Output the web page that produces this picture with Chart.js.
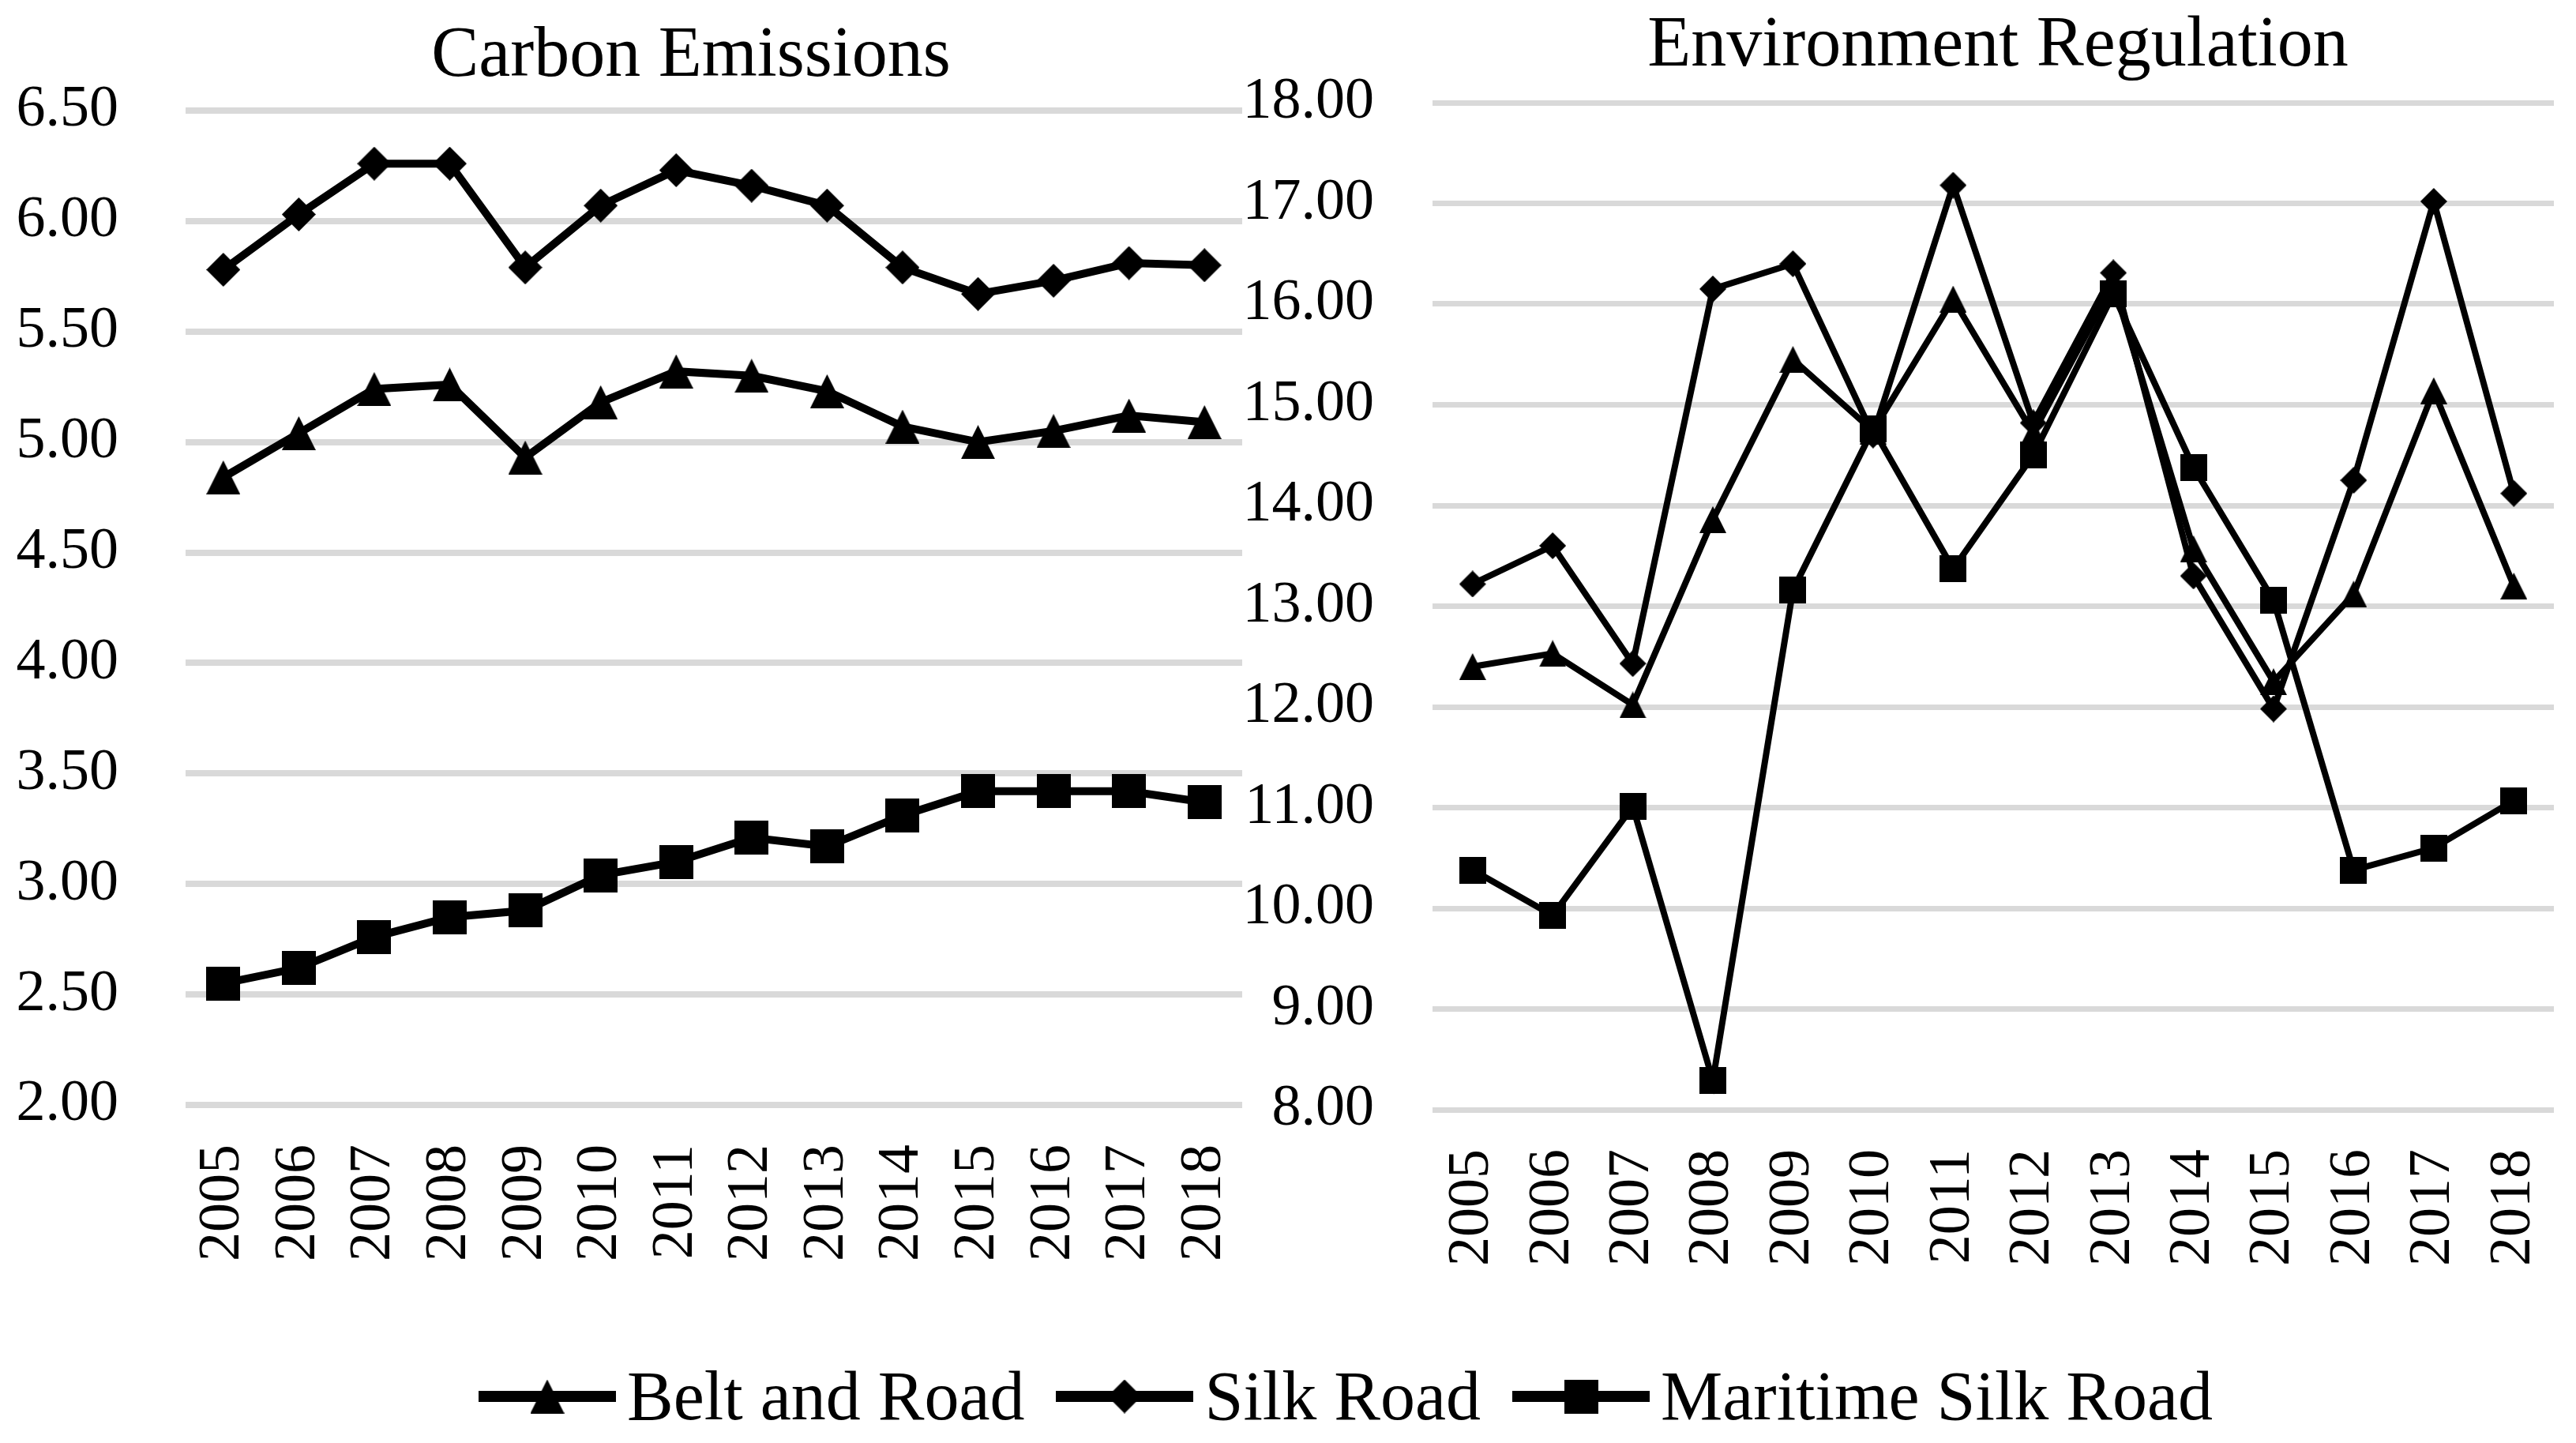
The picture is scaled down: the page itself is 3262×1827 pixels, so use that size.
<!DOCTYPE html>
<html>
<head>
<meta charset="utf-8">
<script src="https://cdn.jsdelivr.net/npm/chart.js@4.4.1/dist/chart.umd.min.js"></script>
<style>
  html, body { margin:0; padding:0; background:#fff; }
  body { width:3262px; height:1827px; position:relative; overflow:hidden; }
  canvas.panel { position:absolute; top:0; }
  #legend { position:absolute; left:606px; top:1724px; display:flex; align-items:center; height:88px;
            font-family:'Liberation Serif', 'Times New Roman', serif; font-size:88px; line-height:88px; color:#000; }
  .item { display:flex; align-items:center; }
  .item span { margin-left:14px; white-space:nowrap; }
  .item + .item { margin-left:40px; }
</style>
</head>
<body>
<canvas id="chart-carbon" class="panel" width="1640" height="1600" style="left:0;width:1640px;height:1600px"></canvas>
<canvas id="chart-reg" class="panel" width="1702" height="1600" style="left:1560px;width:1702px;height:1600px"></canvas>
<div id="legend"></div>

<script>
// ─── Data ─────────────────────────────────────────────────────────────────────
const YEARS = ['2005','2006','2007','2008','2009','2010','2011','2012','2013','2014','2015','2016','2017','2018'];
const SERIES_NAMES = ['Belt and Road', 'Silk Road', 'Maritime Silk Road'];

const beltCarbon     = [4.84, 5.04, 5.24, 5.26, 4.93, 5.18, 5.32, 5.30, 5.23, 5.07, 5.00, 5.05, 5.12, 5.09];
const silkCarbon     = [5.78, 6.03, 6.26, 6.26, 5.79, 6.07, 6.23, 6.16, 6.07, 5.79, 5.67, 5.73, 5.81, 5.80];
const maritimeCarbon = [2.55, 2.62, 2.76, 2.85, 2.88, 3.04, 3.10, 3.21, 3.17, 3.31, 3.42, 3.42, 3.42, 3.37];

const beltReg     = [12.40, 12.53, 12.02, 13.86, 15.45, 14.74, 16.05, 14.72, 16.20, 13.57, 12.25, 13.12, 15.14, 13.20];
const silkReg     = [13.22, 13.60, 12.43, 16.15, 16.40, 14.70, 17.18, 14.82, 16.31, 13.30, 11.98, 14.25, 17.02, 14.12];
const maritimeReg = [10.38,  9.93, 11.01,  8.29, 13.16, 14.76, 13.37, 14.50, 16.10, 14.38, 13.06, 10.38, 10.60, 11.07];

// ─── Style ────────────────────────────────────────────────────────────────────
const FONT = "'Liberation Serif', 'Times New Roman', serif";
const GRID_COLOR = '#d9d9d9';

// marker images (Excel-style triangle / diamond / square)
function marker(shape, s) {
  const c = document.createElement('canvas');
  c.width = s; c.height = s;
  const x = c.getContext('2d');
  x.fillStyle = '#000';
  x.beginPath();
  if (shape === 'tri') { x.moveTo(s/2,0); x.lineTo(s,s); x.lineTo(0,s); }
  else if (shape === 'dia') { x.moveTo(s/2,0); x.lineTo(s,s/2); x.lineTo(s/2,s); x.lineTo(0,s/2); }
  else { x.rect(0,0,s,s); }
  x.closePath(); x.fill();
  return c;
}

const panelTitle = {
  id: 'panelTitle',
  afterDraw(chart, args, opts) {
    const ctx = chart.ctx;
    ctx.save();
    ctx.font = `${opts.size}px ${FONT}`;
    ctx.fillStyle = '#000';
    ctx.textAlign = 'center';
    ctx.textBaseline = 'alphabetic';
    ctx.fillText(opts.text, opts.x, opts.y);
    ctx.restore();
  }
};

function ds(label, data, shape, size, width) {
  return {
    label, data,
    borderColor:'#000', borderWidth:width,
    pointStyle: marker(shape, size), pointRadius: size/2, pointHoverRadius: size/2,
    tension:0, fill:false,
  };
}

function makeChart(id, cfg) {
  return new Chart(document.getElementById(id), {
    type:'line',
    data:{ labels:YEARS, datasets:cfg.datasets },
    plugins:[panelTitle],
    options:{
      responsive:false, animation:false, devicePixelRatio:1,
      layout:{ padding:cfg.padding },
      plugins:{
        legend:{ display:false }, tooltip:{ enabled:false }, title:{ display:false },
        panelTitle: cfg.title,
      },
      scales:{
        x:{
          offset:true,
          grid:{ display:false, drawTicks:false }, border:{ display:false },
          ticks:{ color:'#000', font:{ family:FONT, size:74 }, minRotation:90, maxRotation:90, autoSkip:false, padding:50 },
          afterFit: s => { s.height = cfg.xHeight; s.paddingLeft = 0; s.paddingRight = 0; },
        },
        y:{
          min:cfg.min, max:cfg.max,
          grid:{ color:GRID_COLOR, lineWidth:cfg.gridWidth, drawTicks:false }, border:{ display:false },
          ticks:{ stepSize:cfg.step, color:'#000', font:{ family:FONT, size:74 }, padding:cfg.tickPad,
                  callback: v => Number(v).toFixed(2) },
          afterFit: s => { s.width = cfg.yWidth; s.paddingTop = 0; s.paddingBottom = 0; },
        }
      }
    }
  });
}

makeChart('chart-carbon', {
  datasets:[
    ds(SERIES_NAMES[0], beltCarbon, 'tri', 43, 10),
    ds(SERIES_NAMES[1], silkCarbon, 'dia', 43, 10),
    ds(SERIES_NAMES[2], maritimeCarbon, 'sq', 43, 10),
  ],
  padding:{ top:140, right:67, left:0, bottom:0 },
  title:{ text:'Carbon Emissions', size:90, x:875, y:96 },
  min:2, max:6.5, step:0.5, gridWidth:8, tickPad:85, yWidth:235, xHeight:201,
});

makeChart('chart-reg', {
  datasets:[
    ds(SERIES_NAMES[0], beltReg, 'tri', 34, 8),
    ds(SERIES_NAMES[1], silkReg, 'dia', 34, 8),
    ds(SERIES_NAMES[2], maritimeReg, 'sq', 34, 8),
  ],
  padding:{ top:130, right:28, left:0, bottom:0 },
  title:{ text:'Environment Regulation', size:90, x:970, y:83 },
  min:8, max:18, step:1, gridWidth:7, tickPad:74, yWidth:254, xHeight:195,
});

// ─── Shared legend ────────────────────────────────────────────────────────────
const legend = document.getElementById('legend');
['tri','dia','sq'].forEach((shape, i) => {
  const item = document.createElement('div');
  item.className = 'item';
  const c = document.createElement('canvas');
  c.width = 174; c.height = 50;
  const x = c.getContext('2d');
  x.fillStyle = '#000';
  x.fillRect(0, 18, 174, 14);
  x.drawImage(marker(shape, 43), 87 - 21.5, 25 - 21.5);
  const t = document.createElement('span');
  t.textContent = SERIES_NAMES[i];
  item.appendChild(c); item.appendChild(t);
  legend.appendChild(item);
});
</script>
</body>
</html>
